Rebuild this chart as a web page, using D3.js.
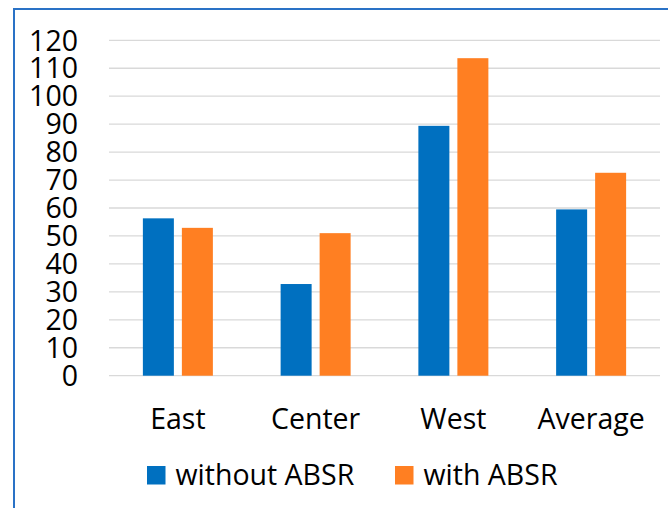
<!DOCTYPE html>
<html><head><meta charset="utf-8">
<script src="https://cdn.jsdelivr.net/npm/d3@7"></script>
<style>html,body{margin:0;padding:0;background:#fff;}svg{display:block;}</style>
</head><body>
<script>
const categories = ["East", "Center", "West", "Average"];
const seriesNames = ["without ABSR", "with ABSR"];
const withoutABSR = [56.3, 32.8, 89.4, 59.5];
const withABSR = [52.9, 51.0, 113.6, 72.6];
const yTicks = [0,10,20,30,40,50,60,70,80,90,100,110,120];
const colors = ["#0070c0", "#ff7f22"];

const W = 668, H = 508;
const svg = d3.select("body").append("svg").attr("width", W).attr("height", H);
const font = "'Open Sans', sans-serif";

// frame border
svg.append("rect").attr("x", 14).attr("y", 9).attr("width", 700).attr("height", 600)
  .attr("fill", "none").attr("stroke", "#2a72c6").attr("stroke-width", 2);

const x0 = d3.scaleBand().domain(categories).range([109, 660]).paddingInner(0).paddingOuter(0);
const y = d3.scaleLinear().domain([0, 120]).range([375.7, 40.3]);

// gridlines
svg.append("g").selectAll("line").data(yTicks).join("line")
  .attr("x1", 109).attr("x2", 660)
  .attr("y1", d => y(d)).attr("y2", d => y(d))
  .attr("stroke", "#d9d9d9").attr("stroke-width", 1.3);

// y axis labels
const yAxis = d3.axisLeft(y).tickValues(yTicks).tickSize(0).tickPadding(0);
const gy = svg.append("g").attr("transform", "translate(78,0)").call(yAxis);
gy.select(".domain").remove();
gy.selectAll("text").attr("font-family", font).attr("font-size", 28.5).attr("fill", "#000")
  .attr("dy", "0.34em");

// bars
const barW = 31, gap = 8;
const x1 = d3.scaleBand().domain(seriesNames).range([0, 2*barW + gap]).paddingInner(gap/(barW+gap)).paddingOuter(0);
const data = categories.map((c, i) => ({c, vals: [withoutABSR[i], withABSR[i]]}));
const groups = svg.append("g").selectAll("g").data(data).join("g")
  .attr("transform", d => `translate(${x0(d.c) + x0.bandwidth()/2 - (2*barW+gap)/2},0)`);
groups.selectAll("rect").data(d => d.vals.map((v, j) => ({v, s: seriesNames[j], j})))
  .join("rect")
  .attr("x", d => x1(d.s)).attr("width", x1.bandwidth())
  .attr("y", d => y(d.v)).attr("height", d => y(0) - y(d.v))
  .attr("fill", d => colors[d.j]);

// x axis labels
const xAxis = d3.axisBottom(x0).tickSize(0).tickPadding(0);
const gx = svg.append("g").attr("transform", "translate(0,429)").call(xAxis);
gx.select(".domain").remove();
gx.selectAll("text").attr("font-family", font).attr("font-size", 28.5).attr("fill", "#000").attr("dy", 0);

// legend
const legendX = [147, 395];
const lg = svg.append("g").selectAll("g").data(seriesNames).join("g")
  .attr("transform", (d, i) => `translate(${legendX[i]},0)`);
lg.append("rect").attr("x", 0).attr("y", 466).attr("width", 18.5).attr("height", 18.5)
  .attr("fill", (d, i) => colors[i]);
lg.append("text").attr("x", 28.5).attr("y", 484.5).text(d => d)
  .attr("font-family", font).attr("font-size", 28.5).attr("fill", "#000");
</script>
</body></html>
